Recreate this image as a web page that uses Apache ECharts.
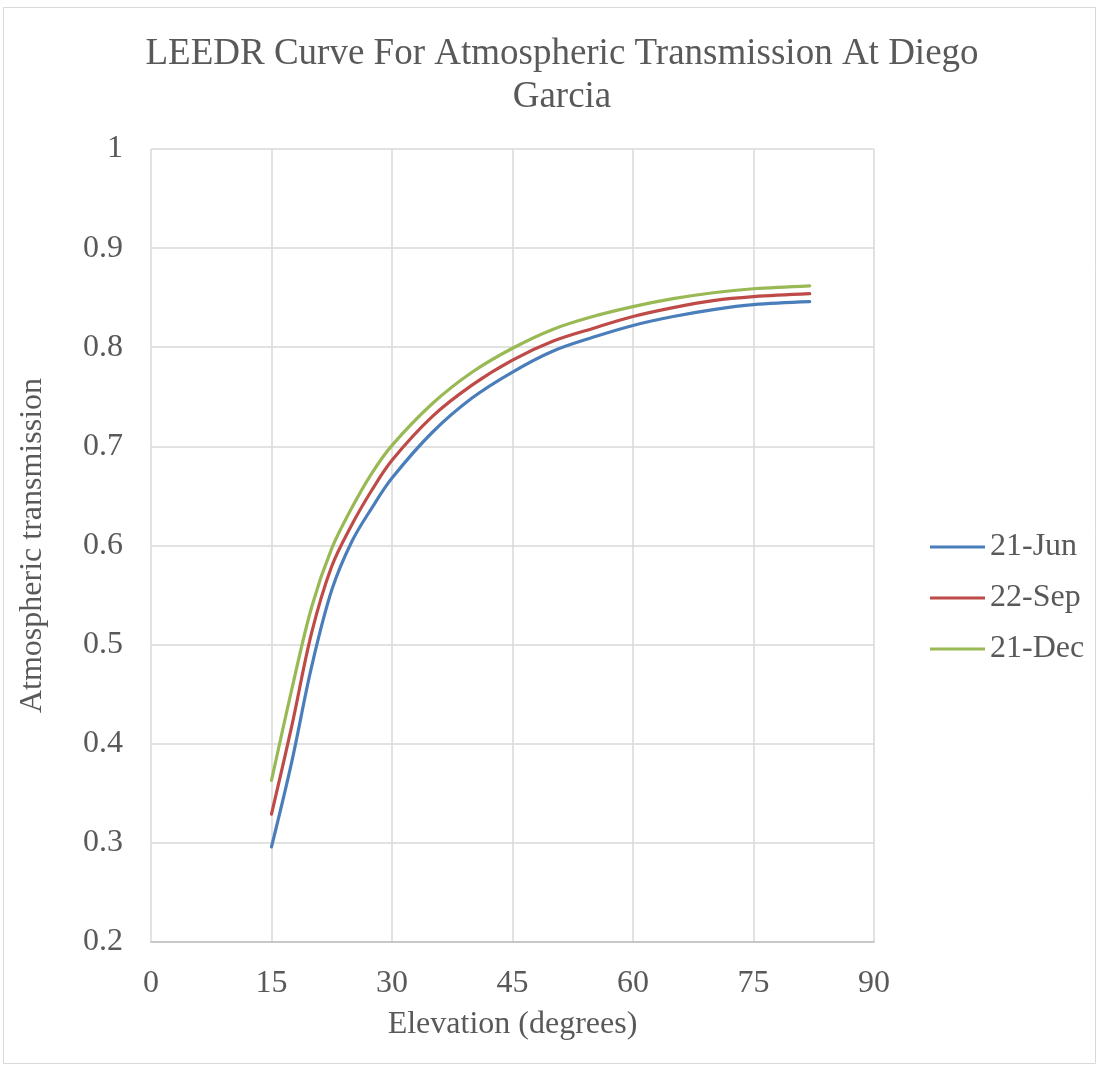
<!DOCTYPE html>
<html>
<head>
<meta charset="utf-8">
<script src="https://cdn.jsdelivr.net/npm/echarts@6/dist/echarts.min.js"></script>
<style>html,body{margin:0;padding:0;background:#fff}#c{width:1098px;height:1070px}</style>
</head>
<body>
<div id="c"></div>
<script>
const elevation = [15, 17.5, 20, 22.5, 25, 27.5, 30, 35, 40, 45, 50, 55, 60, 65, 70, 75, 82];
const jun21 = [0.296, 0.381, 0.478, 0.555, 0.604, 0.638, 0.668, 0.714, 0.749, 0.775, 0.796, 0.810, 0.822, 0.831, 0.838, 0.843, 0.846];
const sep22 = [0.329, 0.417, 0.512, 0.579, 0.621, 0.656, 0.686, 0.730, 0.762, 0.787, 0.806, 0.819, 0.831, 0.840, 0.847, 0.851, 0.854];
const dec21 = [0.363, 0.454, 0.538, 0.597, 0.638, 0.673, 0.701, 0.743, 0.775, 0.799, 0.818, 0.831, 0.841, 0.849, 0.855, 0.859, 0.862];
const seriesNames = ['21-Jun', '22-Sep', '21-Dec'];
const xTicks = [0, 15, 30, 45, 60, 75, 90];
const yTicks = [0.2, 0.3, 0.4, 0.5, 0.6, 0.7, 0.8, 0.9, 1];

const font = 'Liberation Serif';
const txt = '#595959';
const colors = ['#4A7EBB', '#BE4B48', '#98B954'];
function pairs(ys) { return elevation.map((x, i) => [x, ys[i]]); }

const chart = echarts.init(document.getElementById('c'));
chart.setOption({
  animation: false,
  backgroundColor: '#fff',
  color: colors,
  title: {
    text: 'LEEDR Curve For Atmospheric Transmission At Diego\nGarcia',
    left: 557, top: 28, textAlign: 'center',
    textStyle: { fontFamily: font, fontSize: 37, fontWeight: 'normal', color: txt, lineHeight: 43 }
  },
  legend: {
    orient: 'vertical', left: 930, top: 531, padding: 0,
    itemWidth: 55, itemHeight: 3, itemGap: 19, icon: 'rect',
    textStyle: { fontFamily: font, fontSize: 32, color: txt, lineHeight: 32 },
    data: seriesNames
  },
  grid: { left: 151, right: 224, top: 149, bottom: 128, containLabel: false, outerBoundsMode: 'none' },
  xAxis: {
    type: 'value', min: 0, max: 90, interval: 15,
    name: 'Elevation (degrees)', nameLocation: 'middle', nameGap: 67,
    nameTextStyle: { fontFamily: font, fontSize: 32, color: txt },
    axisLine: { show: true, lineStyle: { color: '#BFBFBF', width: 1.5 } },
    axisTick: { show: false },
    axisLabel: { fontFamily: font, fontSize: 32, color: txt, margin: 26,
      formatter: v => xTicks.includes(v) ? String(v) : '' },
    splitLine: { show: true, lineStyle: { color: '#D9D9D9', width: 1.5 } }
  },
  yAxis: {
    type: 'value', min: 0.2, max: 1, interval: 0.1,
    name: 'Atmospheric transmission', nameLocation: 'middle', nameGap: 102, nameRotate: 90,
    nameTextStyle: { fontFamily: font, fontSize: 32, color: txt },
    axisLine: { show: false },
    axisTick: { show: false },
    axisLabel: { fontFamily: font, fontSize: 32, color: txt, margin: 28,
      formatter: v => { const t = yTicks.find(y => Math.abs(y - v) < 1e-6); return t === undefined ? '' : String(t); } },
    splitLine: { show: true, lineStyle: { color: '#D9D9D9', width: 1.5 } }
  },
  graphic: [{
    type: 'rect', silent: true,
    shape: { x: 3.5, y: 7.5, width: 1092, height: 1056 },
    style: { fill: 'none', stroke: '#D9D9D9', lineWidth: 1 }
  }],
  series: [jun21, sep22, dec21].map((d, i) => ({
    name: seriesNames[i], type: 'line', data: pairs(d), smooth: 0.35,
    showSymbol: false, symbol: 'none',
    lineStyle: { width: 3.2, color: colors[i], cap: 'round' }
  }))
});
</script>
</body>
</html>
